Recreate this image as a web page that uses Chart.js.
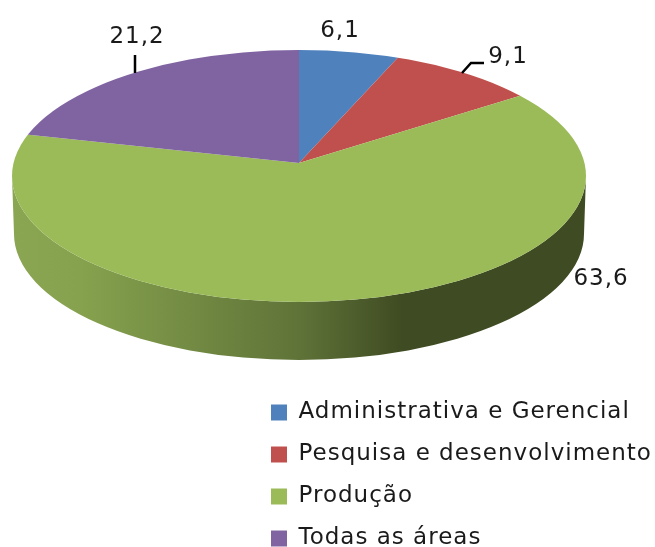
<!DOCTYPE html>
<html>
<head>
<meta charset="utf-8">
<script src="https://cdn.jsdelivr.net/npm/chart.js@4"></script>
<style>
  html, body { margin: 0; padding: 0; background: #fff; }
  canvas { display: block; }
</style>
</head>
<body>
<canvas id="chart_areas" width="655" height="547"></canvas>
<script>
const categories = ["Administrativa e Gerencial", "Pesquisa e desenvolvimento", "Produção", "Todas as áreas"];
const seriesValues = [6.1, 9.1, 63.6, 21.2];
const sliceColors = ["#4F81BD", "#C0504D", "#9BBB59", "#8064A2"];

// where each value label sits on the page, same order as the categories
const labelX = [340, 508, 601, 137];
const labelY = [31, 57, 279, 37];

const FONT = "'DejaVu Sans', sans-serif";

// the look of the tilted pie
const pie = { x: 299, apexY: 163, faceY: 176, rx: 287, ry: 126, depth: 58, tilt: 0.43 };

function valueText(v) {
  return v.toFixed(1).replace(".", ",");
}

const pie3d = {
  id: "pie3d",
  beforeDraw(chart) {
    chart.ctx.letterSpacing = "1px"; // reference text runs wider than the font
  },
  beforeDatasetsDraw(chart) {
    const ctx = chart.ctx;
    const meta = chart.getDatasetMeta(0);
    const arc = meta.data[0];

    // side wall
    let wall = ctx.createLinearGradient(pie.x - pie.rx, 0, pie.x + pie.rx, 0);
    wall.addColorStop(0, "#8aa652");
    wall.addColorStop(0.12, "#86a24e");
    wall.addColorStop(0.5, "#5f7338");
    wall.addColorStop(0.68, "#3f4b22");
    wall.addColorStop(1, "#3f4b22");
    ctx.save();
    ctx.beginPath();
    ctx.ellipse(pie.x, pie.faceY, pie.rx, pie.ry, 0, Math.PI, 0, true);
    ctx.lineTo(pie.x + pie.rx - 2, pie.faceY + pie.depth);
    ctx.ellipse(pie.x, pie.faceY + pie.depth, pie.rx - 2, pie.ry, 0, 0, Math.PI);
    ctx.closePath();
    ctx.fillStyle = wall;
    ctx.fill();
    ctx.restore();

    // top face: the library's arcs, squashed and cut to the ellipse
    const sx = (1.2 * pie.rx) / arc.outerRadius;
    ctx.save();
    ctx.beginPath();
    ctx.ellipse(pie.x, pie.faceY, pie.rx, pie.ry, 0, 0, Math.PI * 2);
    ctx.clip();
    ctx.translate(pie.x, pie.apexY);
    ctx.scale(sx, sx * pie.tilt);
    ctx.translate(-arc.x, -arc.y);
    meta.controller.draw();
    ctx.restore();
    return false;
  },
  afterDraw(chart) {
    const ctx = chart.ctx;
    ctx.save();
    // leader lines
    ctx.strokeStyle = "#000";
    ctx.lineWidth = 2.5;
    ctx.beginPath();
    ctx.moveTo(135, 55);
    ctx.lineTo(135, 73);
    ctx.moveTo(462, 73);
    ctx.lineTo(471, 63);
    ctx.lineTo(484, 63);
    ctx.stroke();
    // value labels
    ctx.fillStyle = "#1a1a1a";
    ctx.font = "23px " + FONT;
    ctx.textAlign = "center";
    ctx.textBaseline = "middle";
    seriesValues.forEach((v, i) => {
      ctx.fillText(valueText(v), labelX[i], labelY[i]);
    });
    ctx.restore();
  },
};

const legendPos = {
  id: "legendPos",
  afterLayout(chart) {
    chart.legend.left += 252;
    chart.legend.right += 252;
    chart.legend.bottom += 22;
  },
};

var ctxAreas = document.getElementById("chart_areas").getContext("2d");

var myChart = new Chart(ctxAreas, {
  type: "pie",
  data: {
    labels: categories,
    datasets: [
      {
        data: seriesValues,
        backgroundColor: sliceColors,
        borderWidth: 0,
      },
    ],
  },
  options: {
    responsive: false,
    animation: false,
    layout: { padding: 0 },
    plugins: {
      tooltip: { enabled: false },
      legend: {
        display: true,
        position: "chartArea",
        align: "end",
        labels: {
          boxWidth: 16,
          boxHeight: 16,
          padding: 19,
          color: "#1a1a1a",
          font: { size: 23, family: FONT },
        },
      },
    },
  },
  plugins: [pie3d, legendPos],
});
</script>
</body>
</html>
